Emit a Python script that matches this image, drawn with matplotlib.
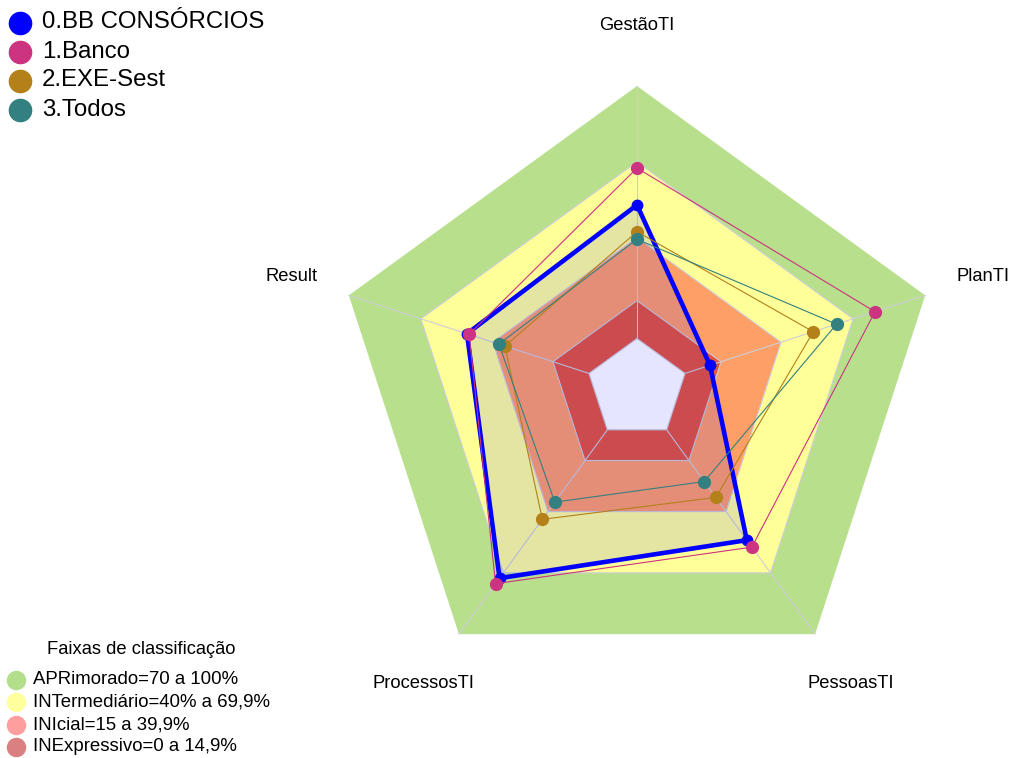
import numpy as np
import matplotlib
matplotlib.use("Agg")
import matplotlib.pyplot as plt
from matplotlib.patches import Polygon

plt.rcParams['font.family'] = ['Liberation Sans', 'DejaVu Sans']

# axes of the radar, clockwise from the top
categories = ['GestãoTI', 'PlanTI', 'PessoasTI', 'ProcessosTI', 'Result']

series_names = ['0.BB CONSÓRCIOS', '1.Banco', '2.EXE-Sest', '3.Todos']
bb_consorcios = [52.9, 10.4, 54.0, 72.6, 50.8]
banco = [67.5, 79.1, 57.4, 75.3, 49.9]
exe_sest = [42.3, 53.4, 33.1, 43.8, 35.0]
todos = [39.3, 63.1, 25.3, 35.4, 37.5]
series_values = [bb_consorcios, banco, exe_sest, todos]
series_colors = ['#0000FF', '#CC3380', '#B3801A', '#338080']

# classification bands (upper limit of each band)
band_limits = [100, 70, 40, 15, 0]
band_colors = ['#B8E08C', '#FFFF99', '#FF9F68', '#E3543A', '#FFFFFF']
band_labels = ['APRimorado=70 a 100%', 'INTermediário=40% a 69,9%',
               'INIcial=15 a 39,9%', 'INExpressivo=0 a 14,9%']
band_legend_colors = ['#B3DE8C', '#FFFF9E', '#FF9E9E', '#DB8080']

W, H = 1013, 758
R = 303.0           # outer radius in pixels
CX, CY = 637, 389   # centre in pixels

fig = plt.figure(figsize=(W / 100, H / 100), dpi=100)
ax = fig.add_axes([0, 0, 1, 1])
ax.set_xlim(-CX / R, (W - CX) / R)
ax.set_ylim(-(H - CY) / R, CY / R)
ax.axis('off')

n = len(categories)
theta = np.deg2rad(90 - 72 * np.arange(n))


def radius(v):
    # fmsb-like scale: centre gap of 1/(seg+1) with seg=5
    return (1 + 5 * np.asarray(v, dtype=float) / 100) / 6


def xy(values):
    r = radius(values)
    return np.column_stack([r * np.cos(theta), r * np.sin(theta)])


# bands
for k, (lim, col) in enumerate(zip(band_limits, band_colors)):
    edge = 'none' if k == 0 else '#CDCDD8'
    ax.add_patch(Polygon(xy([lim] * n), closed=True, facecolor=col,
                         edgecolor=edge, lw=0.8, zorder=1))

# axis lines
inner = xy([0] * n)
outer = xy([100] * n)
for i in range(n):
    ax.plot([inner[i, 0], outer[i, 0]], [inner[i, 1], outer[i, 1]],
            color='#CDCDD8', lw=0.8, zorder=2)

# series
for k, (vals, col) in enumerate(zip(series_values, series_colors)):
    pts = xy(vals)
    closed = np.vstack([pts, pts[:1]])
    if k == 0:
        ax.add_patch(Polygon(pts, closed=True, facecolor=(0, 0, 1, 0.1),
                             edgecolor='none', zorder=3))
        ax.plot(closed[:, 0], closed[:, 1], color=col, lw=3.3, zorder=4,
                solid_joinstyle='miter')
        ax.plot(pts[:, 0], pts[:, 1], 'o', color=col, ms=7.5, zorder=4)
    else:
        ax.plot(closed[:, 0], closed[:, 1], color=col, lw=0.8, zorder=4 + k)
        ax.plot(pts[:, 0], pts[:, 1], 'o', color=col, ms=8.5, zorder=4 + k)

# axis labels
for i, name in enumerate(categories):
    ax.text(1.2 * np.cos(theta[i]), 1.2 * np.sin(theta[i]), name,
            ha='center', va='center', fontsize=13.2)


def fpx(x, y):
    return x / W, 1 - y / H


# series legend (top left)
for j, (name, col) in enumerate(zip(series_names, series_colors)):
    y = 22.5 + 29 * j
    fig.lines.append(plt.Line2D([fpx(20, y)[0]], [fpx(20, y)[1]], marker='o',
                                ms=16, color=col, transform=fig.transFigure))
    fig.text(*fpx(42, y), name, ha='left', va='center', fontsize=17.3)

# band legend (bottom left)
fig.text(*fpx(141, 649), 'Faixas de classificação', ha='center',
         va='center', fontsize=13.2)
for j, (lab, col) in enumerate(zip(band_labels, band_legend_colors)):
    y = 680 + 22.3 * j
    fig.lines.append(plt.Line2D([fpx(16, y)[0]], [fpx(16, y)[1]], marker='o',
                                ms=13, color=col, transform=fig.transFigure))
    fig.text(*fpx(33, y), lab, ha='left', va='center', fontsize=13.4)

fig.savefig('out.png', dpi=100)
